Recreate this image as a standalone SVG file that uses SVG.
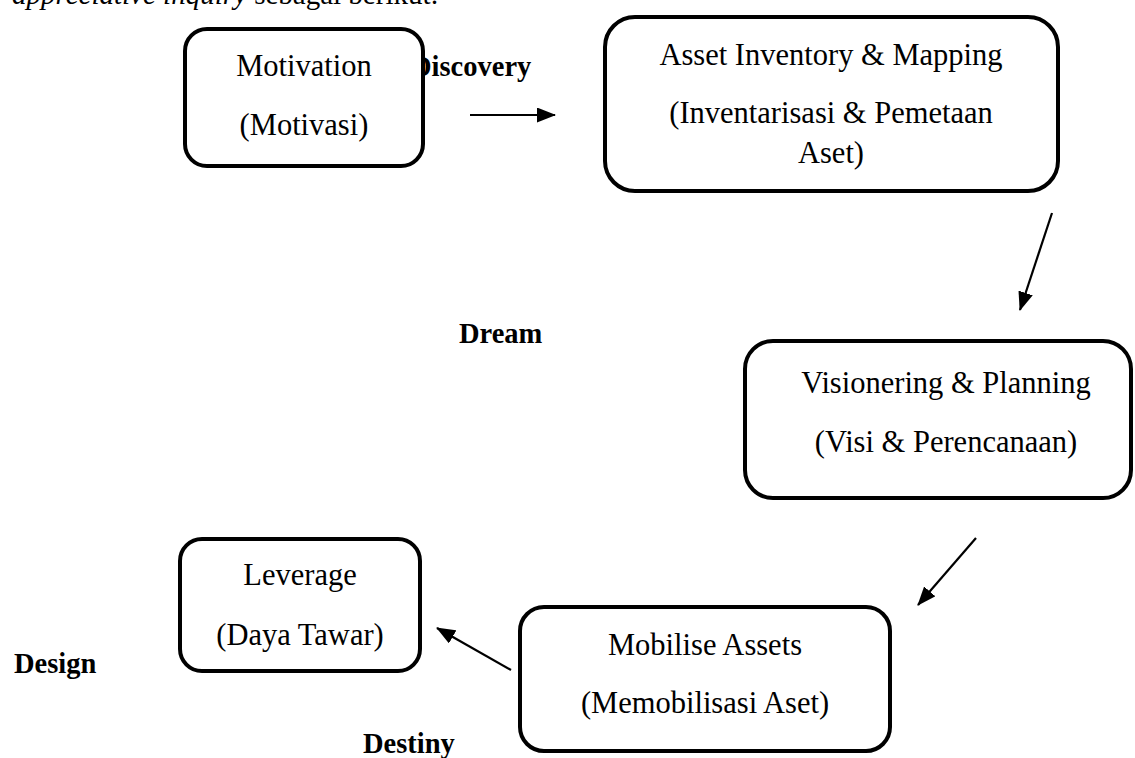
<svg xmlns="http://www.w3.org/2000/svg" width="1135" height="758" viewBox="0 0 1135 758">
<style>
.bg{fill:#fff}
.box{fill:#fff;stroke:#000;stroke-width:4}
.t{font-family:"Liberation Serif","Times New Roman",serif;font-size:30.5px;fill:#000;text-anchor:middle}
.lbl{font-family:"Liberation Serif","Times New Roman",serif;font-size:28.5px;font-weight:bold;fill:#000}
.body{font-family:"Liberation Serif","Times New Roman",serif;font-size:29px;fill:#000}
.conn{stroke:#000;stroke-width:2.2;fill:none;marker-end:url(#ah)}
</style>
<defs>
<marker id="ah" markerUnits="userSpaceOnUse" markerWidth="19" markerHeight="15" refX="18" refY="7.5" orient="auto">
<path d="M0,0 L19,7.5 L0,15 Z" fill="#000"/>
</marker>
</defs>
<rect class="bg" x="0" y="0" width="1135" height="758"/>
<text class="body" x="12" y="4"><tspan font-style="italic">appreciative inquiry</tspan> sebagai berikut:</text>
<g id="labels">
<text class="lbl" x="411" y="76">Discovery</text>
<text class="lbl" x="459" y="343">Dream</text>
<text class="lbl" x="14" y="673">Design</text>
<text class="lbl" x="363" y="753">Destiny</text>
</g>
<g id="connectors">
<line class="conn" x1="470" y1="115" x2="555" y2="115"/>
<line class="conn" x1="1052" y1="213" x2="1020" y2="310"/>
<line class="conn" x1="976" y1="538" x2="918" y2="605"/>
<line class="conn" x1="511" y1="670" x2="437" y2="628"/>
</g>
<g id="motivation">
<rect class="box" x="185" y="29" width="238" height="137" rx="22"/>
<text class="t" x="304" y="76">Motivation</text>
<text class="t" x="304" y="135">(Motivasi)</text>
</g>
<g id="asset-inventory">
<rect class="box" x="605" y="17" width="453" height="174" rx="30"/>
<text class="t" x="831" y="65">Asset Inventory &amp; Mapping</text>
<text class="t" x="831" y="123">(Inventarisasi &amp; Pemetaan</text>
<text class="t" x="831" y="163">Aset)</text>
</g>
<g id="visioning">
<rect class="box" x="745" y="341" width="386" height="157" rx="28"/>
<text class="t" x="946" y="393">Visionering &amp; Planning</text>
<text class="t" x="946" y="452">(Visi &amp; Perencanaan)</text>
</g>
<g id="mobilise">
<rect class="box" x="520" y="607" width="370" height="144" rx="24"/>
<text class="t" x="705" y="655">Mobilise Assets</text>
<text class="t" x="705" y="713">(Memobilisasi Aset)</text>
</g>
<g id="leverage">
<rect class="box" x="180" y="539" width="240" height="132" rx="22"/>
<text class="t" x="300" y="585">Leverage</text>
<text class="t" x="300" y="645">(Daya Tawar)</text>
</g>
</svg>
